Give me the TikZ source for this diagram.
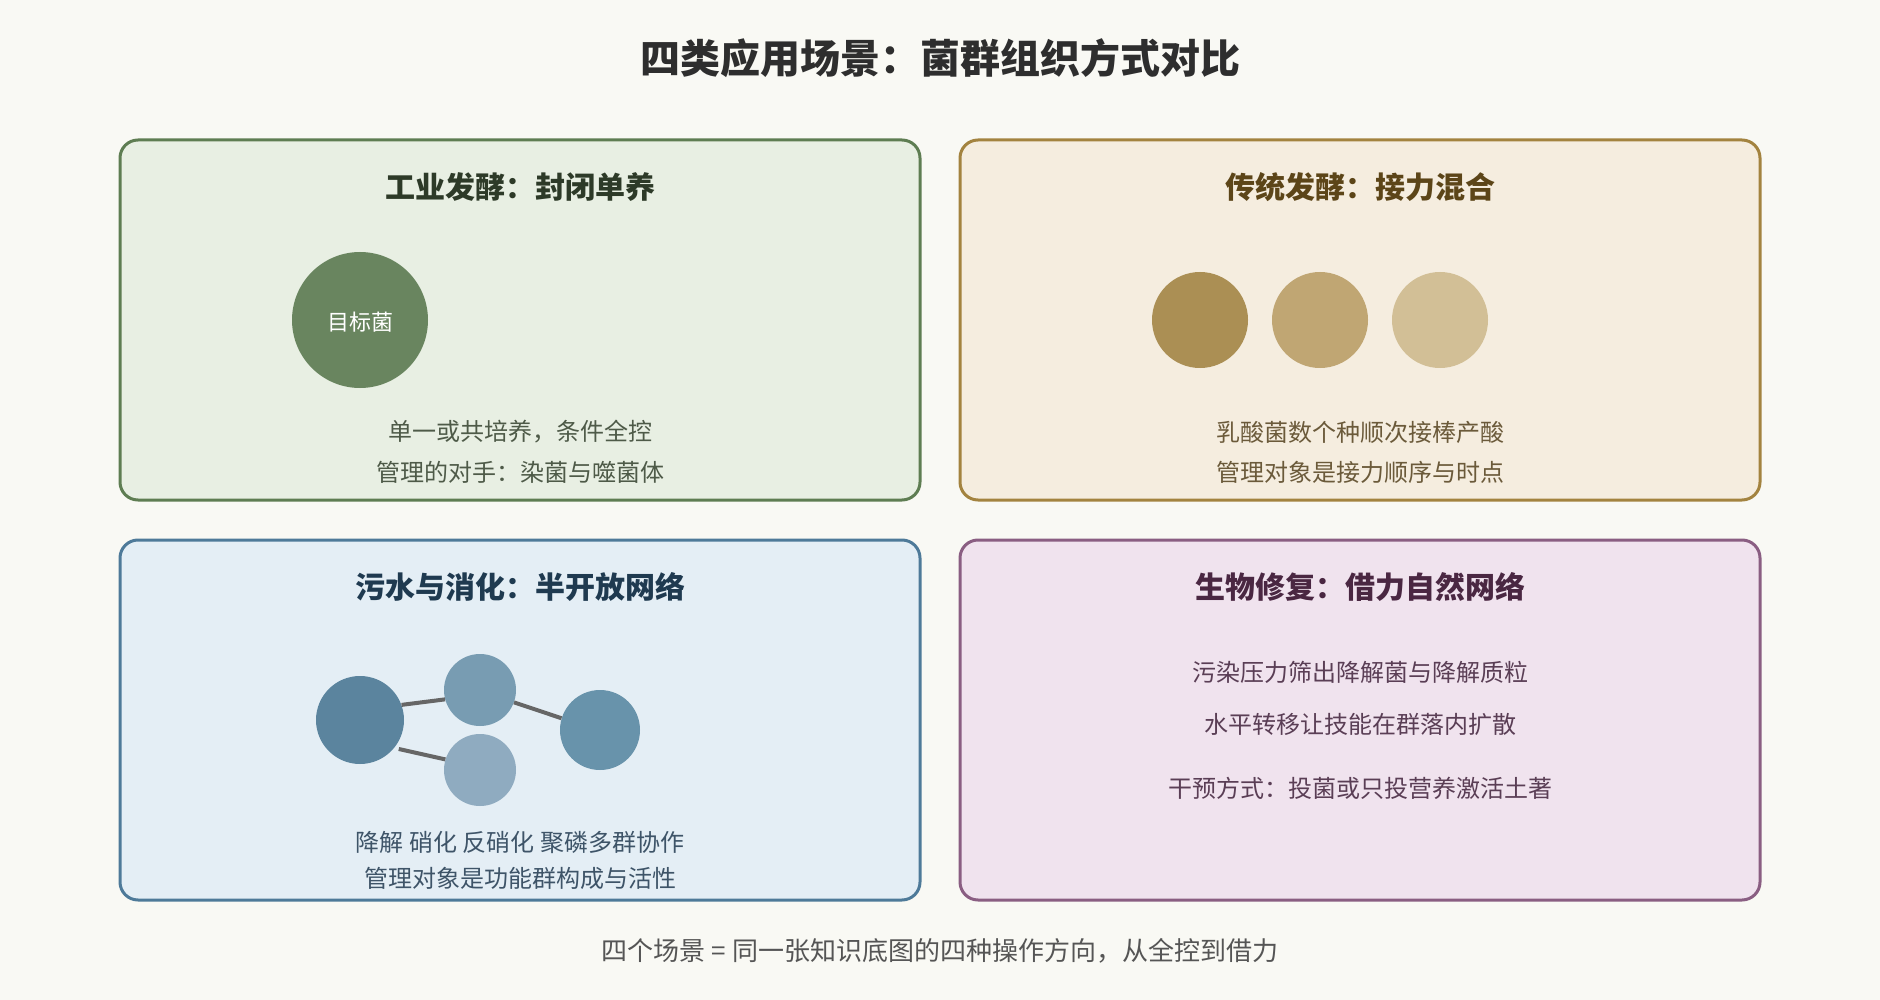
\documentclass[tikz,border=0pt]{standalone}
\usepackage{fontspec}
\setmainfont{Noto Sans CJK SC}
\definecolor{bgc}{HTML}{F9F9F4}
\definecolor{gfill}{HTML}{E8EFE3}\definecolor{gline}{HTML}{5E7D52}\definecolor{gtitle}{HTML}{2D3A28}\definecolor{gtext}{HTML}{4E5A48}
\definecolor{yfill}{HTML}{F5EDDF}\definecolor{yline}{HTML}{A3833F}\definecolor{ytitle}{HTML}{5C4518}\definecolor{ytext}{HTML}{6B5A3A}
\definecolor{bfill}{HTML}{E4EEF5}\definecolor{bline}{HTML}{4E7A99}\definecolor{btitle}{HTML}{1F3A50}\definecolor{btext}{HTML}{3E5468}
\definecolor{pfill}{HTML}{F0E3EE}\definecolor{pline}{HTML}{8A5E82}\definecolor{ptitle}{HTML}{4A2742}\definecolor{ptext}{HTML}{5A3E55}
\definecolor{gcirc}{HTML}{69855F}
\definecolor{ya}{HTML}{AB8F54}\definecolor{yb}{HTML}{C0A673}\definecolor{yc}{HTML}{D2BF96}
\definecolor{ba}{HTML}{5B849E}\definecolor{bb}{HTML}{789CB2}\definecolor{bc}{HTML}{8FABC0}\definecolor{bd}{HTML}{6893AB}
\definecolor{linkc}{HTML}{666666}
\definecolor{maintitle}{HTML}{2E2E2E}\definecolor{foot}{HTML}{555555}
\tikzset{
  panel/.style={draw=#1, line width=3pt, rounded corners=18pt},
  ptitle/.style={font=\fontsize{30}{36}\selectfont\bfseries, text=#1, inner sep=0pt},
  body/.style={font=\fontsize{24}{29}\selectfont, text=#1, inner sep=0pt},
  bug/.style={circle, fill=#1, draw=none, inner sep=0pt},
  link/.style={draw=linkc, line width=4pt},
}
\begin{document}
\begin{tikzpicture}[x=1pt,y=-1pt]
\fill[bgc] (0,0) rectangle (1880,1000);
\useasboundingbox (0,0) rectangle (1880,1000);
\node[font=\fontsize{40}{48}\selectfont\bfseries, text=maintitle, inner sep=0pt] (title) at (940,58) {四类应用场景：菌群组织方式对比};

% panel 1
\draw[panel=gline, fill=gfill] (120,140) rectangle (920,500);
\node[ptitle=gtitle] (t1) at (520,187) {工业发酵：封闭单养};
\node[bug=gcirc, minimum size=136pt] (g1) at (360,320) {};
\node[font=\fontsize{22}{26}\selectfont, text=white, inner sep=0pt] (g1lab) at (360,322) {目标菌};
\node[body=gtext] (l11) at (520,432) {单一或共培养，条件全控};
\node[body=gtext] (l12) at (520,472) {管理的对手：染菌与噬菌体};

% panel 2
\draw[panel=yline, fill=yfill] (960,140) rectangle (1760,500);
\node[ptitle=ytitle] (t2) at (1360,187) {传统发酵：接力混合};
\node[bug=ya, minimum size=96pt] (y1) at (1200,320) {};
\node[bug=yb, minimum size=96pt] (y2) at (1320,320) {};
\node[bug=yc, minimum size=96pt] (y3) at (1440,320) {};
\node[body=ytext] (l21) at (1360,432) {乳酸菌数个种顺次接棒产酸};
\node[body=ytext] (l22) at (1360,472) {管理对象是接力顺序与时点};

% panel 3
\draw[panel=bline, fill=bfill] (120,540) rectangle (920,900);
\node[ptitle=btitle] (t3) at (520,587) {污水与消化：半开放网络};
\node[bug=ba, minimum size=88pt] (b1) at (360,720) {};
\node[bug=bb, minimum size=72pt] (b2) at (480,690) {};
\node[bug=bc, minimum size=72pt] (b3) at (480,770) {};
\node[bug=bd, minimum size=80pt] (b4) at (600,730) {};
\draw[link] (b1.20) -- (b2.195);
\draw[link] (b2.-20) -- (b4.163);
\draw[link] ([shift={(3,3)}]b1.-36) -- (b3.163);
\node[body=btext] (l31) at (520,842) {降解 硝化 反硝化 聚磷多群协作};
\node[body=btext] (l32) at (520,878) {管理对象是功能群构成与活性};

% panel 4
\draw[panel=pline, fill=pfill] (960,540) rectangle (1760,900);
\node[ptitle=ptitle] (t4) at (1360,587) {生物修复：借力自然网络};
\node[body=ptext] (l41) at (1360,672) {污染压力筛出降解菌与降解质粒};
\node[body=ptext] (l42) at (1360,724) {水平转移让技能在群落内扩散};
\node[body=ptext] (l43) at (1360,788) {干预方式：投菌或只投营养激活土著};

\node[font=\fontsize{26}{31}\selectfont, text=foot, inner sep=0pt] (footer) at (940,951) {四个场景 = 同一张知识底图的四种操作方向，从全控到借力};
\end{tikzpicture}
\end{document}
